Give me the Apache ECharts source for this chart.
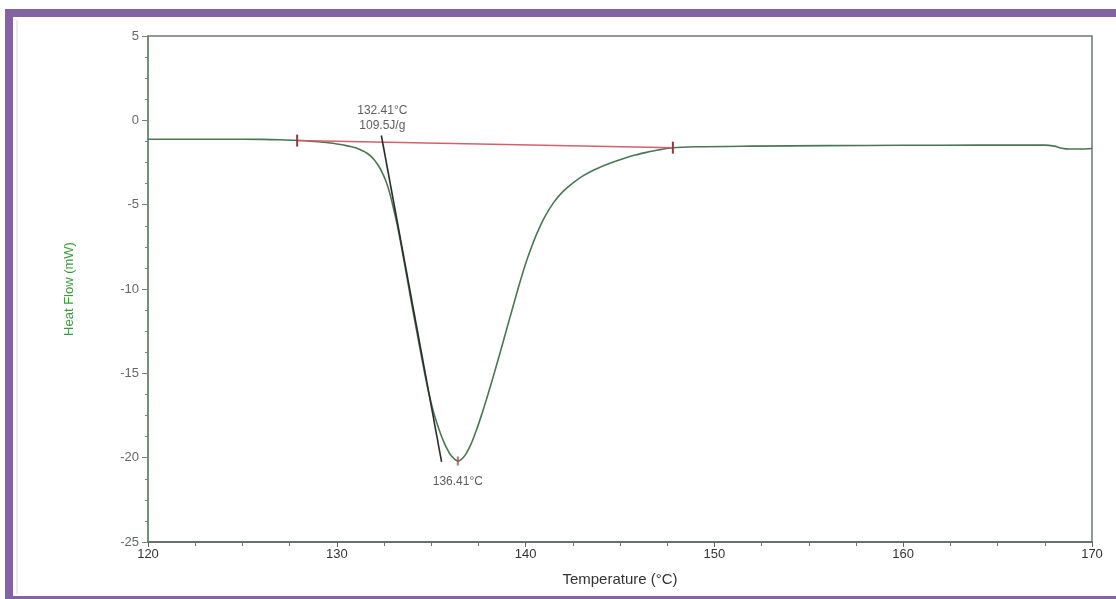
<!DOCTYPE html>
<html>
<head>
<meta charset="utf-8">
<title>DSC Heat Flow</title>
<script src="https://cdn.jsdelivr.net/npm/echarts@6/dist/echarts.min.js"></script>
<style>
  html, body { margin: 0; padding: 0; background: #ffffff; }
  #chart { width: 1116px; height: 599px; }
</style>
</head>
<body>
<div id="chart"></div>
<script>
// Temperature samples (°C) of the DSC scan
const temperatures = [
  120, 122, 124, 126, 127, 128, 129, 129.8, 130.5, 131.0, 131.2, 131.4, 131.6, 131.8,
  132.0, 132.2, 132.4, 132.6, 132.8, 133.0, 133.2, 133.4, 133.7, 134.0, 134.25, 134.5,
  134.7, 134.9, 135.1, 135.3, 135.5, 135.7, 135.85, 136.0, 136.2, 136.41, 136.6, 136.8,
  137.0, 137.2, 137.4, 137.6, 137.8, 138.0, 138.3, 138.6, 139.0, 139.3, 139.6, 139.97,
  140.3, 140.6, 141.0, 141.5, 142.0, 142.5, 143.1, 143.8, 144.5, 145.2, 145.8, 146.4,
  147.0, 147.7, 149, 152, 156, 160, 164, 167.5, 168.0, 168.4, 168.8, 169.4, 170
];
// Heat flow (mW) at each temperature
const heatFlow = [
  -1.12, -1.12, -1.12, -1.13, -1.15, -1.2, -1.27, -1.36, -1.5, -1.63, -1.72, -1.82, -1.95, -2.12,
  -2.36, -2.68, -3.08, -3.6, -4.3, -5.2, -6.2, -7.35, -9.2, -11.1, -12.6, -14.1,
  -15.25, -16.3, -17.2, -17.95, -18.6, -19.15, -19.5, -19.8, -20.05, -20.2, -20.1, -19.85,
  -19.45, -18.95, -18.35, -17.7, -17.0, -16.27, -15.14, -13.97, -12.37, -11.17, -9.98, -8.6,
  -7.55, -6.7, -5.75, -4.85, -4.2, -3.72, -3.25, -2.85, -2.53, -2.26, -2.06, -1.9,
  -1.76, -1.64, -1.57, -1.53, -1.5, -1.48, -1.47, -1.47, -1.53, -1.65, -1.7, -1.7, -1.67
];
// Integration baseline of the melting peak (start, end)
const baselineT = [127.9, 147.8];
const baselineHF = [-1.2, -1.62];
// Extrapolated onset tangent (two end points)
const tangentT = [132.36, 135.55];
const tangentHF = [-0.9, -20.25];
// Analysis results
const onsetTemp = 132.41;
const enthalpy = 109.5;
const peakTemp = 136.41;
const peakHF = -20.2;
// Axis ranges
const xRange = [120, 170];
const yRange = [-25, 5];

const FONT = '"Liberation Sans Narrow", "Liberation Sans", Arial, sans-serif';

const curveData = temperatures.map((t, i) => [t, heatFlow[i]]);
const baselineData = baselineT.map((t, i) => [t, baselineHF[i]]);
const tangentData = tangentT.map((t, i) => [t, tangentHF[i]]);
// baseline value at onset, for placing the result label
const onsetBase = baselineHF[0] + (onsetTemp - baselineT[0]) / (baselineT[1] - baselineT[0]) * (baselineHF[1] - baselineHF[0]);

const chart = echarts.init(document.getElementById('chart'), null, { renderer: 'canvas' });

chart.setOption({
  backgroundColor: '#ffffff',
  animation: false,
  grid: {
    left: 148, right: 24, top: 36, bottom: 57,
    show: true, borderColor: '#6f7772', borderWidth: 1.5, backgroundColor: 'transparent'
  },
  xAxis: {
    type: 'value', min: xRange[0], max: xRange[1], interval: 10,
    name: 'Temperature (°C)', nameLocation: 'middle', nameGap: 30,
    nameTextStyle: { color: '#333', fontSize: 15, fontFamily: FONT },
    axisLine: { onZero: false, lineStyle: { color: '#5a6660', width: 1.5 } },
    axisTick: { show: true, length: 5, lineStyle: { color: '#5a6660' } },
    minorTick: { show: true, splitNumber: 4, length: 4, lineStyle: { color: '#6a7570' } },
    axisLabel: { color: '#333', fontSize: 13, margin: 6, fontFamily: FONT },
    splitLine: { show: false }
  },
  yAxis: {
    type: 'value', min: yRange[0], max: yRange[1], interval: 5,
    name: 'Heat Flow (mW)', nameLocation: 'middle', nameGap: 72, nameRotate: 90,
    nameTextStyle: { color: '#3f9a3f', fontSize: 13, fontFamily: FONT },
    axisLine: { onZero: false, lineStyle: { color: '#6a8a78', width: 1.5 } },
    axisTick: { show: true, length: 6, lineStyle: { color: '#6a8a78' } },
    minorTick: { show: true, splitNumber: 4, length: 3, lineStyle: { color: '#6a8a78' } },
    axisLabel: { color: '#666', fontSize: 13, margin: 9, fontFamily: FONT },
    splitLine: { show: false }
  },
  series: [
    {
      name: 'Heat Flow', type: 'line', data: curveData,
      showSymbol: false, smooth: 0.3,
      lineStyle: { color: '#4a7654', width: 1.6 }, z: 3
    },
    {
      name: 'Baseline', type: 'line', data: baselineData,
      symbol: 'rect', symbolSize: [2, 12], showSymbol: true,
      itemStyle: { color: '#8a3a44' },
      lineStyle: { color: '#d2606c', width: 1.5 }, z: 4
    },
    {
      name: 'Onset tangent', type: 'line', data: tangentData,
      showSymbol: false,
      lineStyle: { color: '#2a2e2c', width: 1.6 }, z: 5
    },
    {
      name: 'Peak', type: 'scatter', data: [[peakTemp, peakHF]],
      symbol: 'rect', symbolSize: [2, 9],
      itemStyle: { color: '#b04a55' }, z: 6,
      label: {
        show: true, position: 'bottom', distance: 10,
        formatter: peakTemp.toFixed(2) + '°C',
        color: '#333', fontSize: 12, fontFamily: FONT
      }
    },
    {
      name: 'Onset', type: 'scatter', data: [[onsetTemp, onsetBase]],
      symbolSize: 0, z: 6,
      label: {
        show: true, position: 'top', distance: 9, align: 'center', lineHeight: 15,
        formatter: onsetTemp.toFixed(2) + '°C\n' + enthalpy.toFixed(1) + 'J/g',
        color: '#333', fontSize: 12, fontFamily: FONT
      }
    }
  ],
  graphic: [
    // purple frame around the panel
    { type: 'rect', shape: { x: 5, y: 9, width: 1111, height: 8 }, style: { fill: '#8264a2' }, silent: true },
    { type: 'rect', shape: { x: 5, y: 9, width: 8, height: 590 }, style: { fill: '#8264a2' }, silent: true },
    { type: 'rect', shape: { x: 5, y: 596, width: 1111, height: 3 }, style: { fill: '#8264a2' }, silent: true },
    { type: 'line', shape: { x1: 17, y1: 20, x2: 17, y2: 594 }, style: { stroke: '#d8d8d8', lineWidth: 1 }, silent: true }
  ]
});
</script>
</body>
</html>
